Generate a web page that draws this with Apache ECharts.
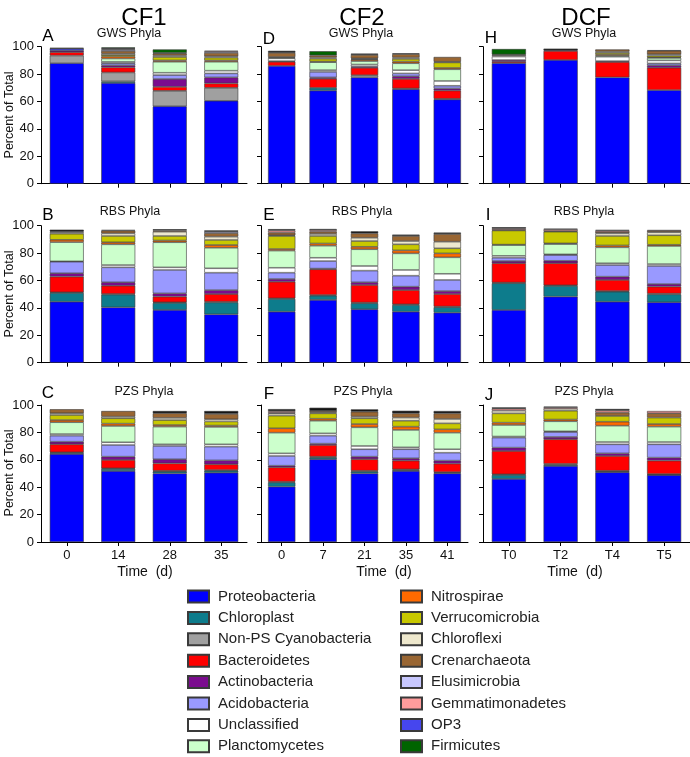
<!DOCTYPE html>
<html><head><meta charset="utf-8">
<script src="https://cdn.jsdelivr.net/npm/echarts@6/dist/echarts.min.js"></script>
<style>html,body{margin:0;padding:0;background:#fff}#c{width:690px;height:757px}</style>
</head><body><div id="c"></div><script>
// Bar order (39 bars): row GWS [A 0,14,28,35 | D 0,7,21,35,41 | H T0,T2,T4,T5],
// then row RBS [B | E | I], then row PZS [C | F | J]
const catCF1 = ['0','14','28','35'];
const catCF2 = ['0','7','21','35','41'];
const catDCF = ['T0','T2','T4','T5'];
const yTicks = [0,20,40,60,80,100];

const proteobacteria = [88,73.5,56.5,60.5, 86,68,77.6,69,61.5, 88,90.3,77.6,68.3,
  44.5,40.4,38.5,35.3, 37.2,45.8,39,37.2,36.5, 38.5,48.2,44.5,44.1,
  64.2,51.8,50.1,50.6, 40.4,60.4,50.1,51.8,50.1, 46,55.5,50.9,48.9];
const chloroplast = [0,1.2,0,0, 0,2,0,0.5,0.5, 0,0,0,0,
  6.4,9.3,5.1,8.7, 9.3,3.1,4.4,4.9,4, 19.5,7.8,7.3,5.8,
  0.8,1.5,1.4,1.4, 3.1,1.4,1.4,0.7,0.4, 2.9,1,0.6,0.2];
const divider = [0,0,0,0, 0,0,0,0,0, 0,0,0,0,
  0.5,0.5,0.5,0.5, 0.5,0.5,0.5,0.5,0.5, 0.5,0.5,0.5,0.5,
  0.5,0.5,0.5,0.5, 0.5,0.5,0.5,0.5,0.5, 0.5,0.5,0.5,0.5];
const nonPSCyano = [5.5,6.5,11.3,9.5, 0,0,1.6,0,0, 0,0,0,0,
  0,0,0,0, 0,0,0,0,0, 0,0,0,0, 0,0,0,0, 0,0,0,0,0, 0,0,0,0];
const bacteroidetes = [2.5,3.7,2.9,3.2, 3,6.6,5.4,7,6, 1,6.6,11.2,16.3,
  11.4,6,4.1,5.6, 12.1,18.8,12.8,10.4,9.1, 14.1,16.1,8.1,5.1,
  5.8,6.1,5.4,4.2, 10.5,8.5,8.4,6.4,6.2, 17,18,10.8,9.8];
const actinobacteria = [1,1.5,5.7,4.4, 0.5,1,1,1.9,1.5, 1.3,0.5,0.7,1.8,
  2.5,2.5,2.4,2.9, 2,0.5,2,2.5,2.2, 1.6,1.8,2.4,1.9,
  1.9,2.4,3,2.9, 1.2,1,1.9,1.7,2.2, 2.5,1.7,1.9,2.2];
const acidobacteria = [0,1.5,2.9,2.9, 0,4,0,2.1,2, 0,0,0,1.4,
  8.4,10.9,17.1,12.7, 4.6,5.5,8.5,8,8.1, 2.4,4.2,8.5,13.2,
  4.4,8.5,9.7,10, 7.1,5.8,5.4,6.6,5.8, 7.3,3.6,6.6,9.7];
const unclassified = [0,1,1.7,2, 2,1.3,1.4,2.4,3.5, 2.5,0,3.2,2.2,
  0.3,1.7,1.9,3.2, 3.6,2.4,3.4,4.2,4.5, 1.4,0.5,1.3,1.4,
  1.2,2,1.2,1.7, 1.9,1.7,2.4,1.4,2.5, 0.8,0.5,1.7,1.7];
const planctomycetes = [0,2.5,8,6.5, 0,5.8,2.5,5,8.5, 0,0,0.8,1.8,
  14,15.1,18.3,15, 12.5,8.8,12.2,12.1,12, 7.9,7.5,11.6,13.2,
  8.6,11.9,12.9,12.7, 15.1,9.2,13.6,12.7,12.1, 8.4,7.3,11.9,11.2];
const nitrospirae = [0,1.5,1,1, 0,0.5,1,1.2,1, 0,0,0.8,0.5,
  1.7,1.5,1.3,2, 1.2,1.6,1.8,2.2,2.9, 0.3,0.5,1.4,0.9,
  1.6,1.7,1.2,1, 3.2,1.5,2.4,2.4,2.4, 1.7,1.3,2.9,1.9];
const verrucomicrobia = [0,1,2.5,2, 0.5,2,0.5,2,4, 0,0,1.2,1.2,
  4.4,4.6,3.3,3.7, 9.5,5.5,4.2,4.4,3.7, 10.3,8.5,6.9,6.9,
  3.7,3.9,3.6,3, 9.2,3.9,4.2,4.3,4.4, 6.8,6.4,4.2,4.7];
const chloroflexi = [0,1,1,1, 0.5,1,0.5,1,0.5, 1,0,1,1,
  1.2,1.9,3.1,2.4, 0.5,1.5,2.4,2.4,4.8, 0,0,1.9,2.2,
  1.3,1.2,1.6,1.6, 1.6,0.7,1.2,2.3,3.2, 2,1.5,0,0];
const crenarchaeota = [0,2,1.5,2.5, 3,1.5,2.5,2.5,3.5, 0.5,0,1.5,2.5,
  0.5,2,1,2.6, 2,1.6,3.2,3.7,5.6, 0.5,0.5,1,1,
  2.9,4.1,3.4,3.9, 0.5,1,3.6,3.1,4.1, 0,0,2.5,3.2];
const elusimicrobia = [0,1,0.5,1, 0,0,0,0,0, 0,0,0,0,
  0,0,0,1, 0,0,0,0,0, 0,0,0,0, 0,0,0,0, 0,0,0,0,0, 0,0,0,0];
const gemmatimonadetes = [0,0.5,0,0.5, 0,0,0,0,0, 0,0,0,0,
  0,0,0,0, 1.5,1.2,0,0,0, 1,1.2,1,0.7,
  0,0,0,0, 1.2,0,0,0,0, 1.4,1,1.5,1.6];
const op3 = [1.5,0.5,0,0, 0,0,0,0,0, 0,0,0,0,
  0,0,0,0, 0,0,0,0,0, 0,0,0,0, 0,0,0,0, 0,0,0,0,0, 0,0,0,0];
const firmicutes = [0,0.5,2.5,0, 0,3,0,0,0, 4,0,0,0,
  0,0,0,0, 0,0,0,0,0, 0,0,0,0, 0,0,0,0, 0,0,0,0,0, 0,0,0,0];
const otherDark = [0.8,0,0,0, 1.5,0,1,0.6,0, 0,1.2,0,0.5,
  1.3,0.5,0.8,1, 1,0.8,1.5,1,1.1, 0.9,0.5,0.5,0,
  0,0,1.6,2.1, 1.5,2.4,1.7,1.9,1.7, 1,0.5,1.1,0];

const phyla = [
  {name:'Proteobacteria', color:'#0000FF', data:proteobacteria},
  {name:'Chloroplast', color:'#0D7C8C', data:chloroplast},
  {name:'_div', color:'#000000', data:divider},
  {name:'Non-PS Cyanobacteria', color:'#A0A0A0', data:nonPSCyano},
  {name:'Bacteroidetes', color:'#FF0000', data:bacteroidetes},
  {name:'Actinobacteria', color:'#7B0C8E', data:actinobacteria},
  {name:'Acidobacteria', color:'#9999FF', data:acidobacteria},
  {name:'Unclassified', color:'#FFFFFF', data:unclassified},
  {name:'Planctomycetes', color:'#CCFFCC', data:planctomycetes},
  {name:'Nitrospirae', color:'#FF6A00', data:nitrospirae},
  {name:'Verrucomicrobia', color:'#C8C800', data:verrucomicrobia},
  {name:'Chloroflexi', color:'#EEE8CD', data:chloroflexi},
  {name:'Crenarchaeota', color:'#996633', data:crenarchaeota},
  {name:'Elusimicrobia', color:'#C8C8FF', data:elusimicrobia},
  {name:'Gemmatimonadetes', color:'#FF9C9C', data:gemmatimonadetes},
  {name:'OP3', color:'#4646EE', data:op3},
  {name:'Firmicutes', color:'#006400', data:firmicutes},
  {name:'_other', color:'#151515', data:otherDark}
];
const legendLeft = ['Proteobacteria','Chloroplast','Non-PS Cyanobacteria','Bacteroidetes','Actinobacteria','Acidobacteria','Unclassified','Planctomycetes'];
const legendRight = ['Nitrospirae','Verrucomicrobia','Chloroflexi','Crenarchaeota','Elusimicrobia','Gemmatimonadetes','OP3','Firmicutes'];

const FONT = 'Liberation Sans, Arial, Helvetica, sans-serif';
const colLeft = [41, 261, 483];
const colWidth = [206, 207, 207];
const rowTop = [46.7, 225.7, 405];
const rowH = 137;
const colCats = [catCF1, catCF2, catDCF];
const panels = [
  {letter:'A',title:'GWS Phyla',row:0,col:0,lx:48,ly:36,tx:129,ty:34},
  {letter:'D',title:'GWS Phyla',row:0,col:1,lx:269,ly:39,tx:361,ty:34},
  {letter:'H',title:'GWS Phyla',row:0,col:2,lx:491,ly:38,tx:584,ty:34},
  {letter:'B',title:'RBS Phyla',row:1,col:0,lx:48,ly:215,tx:130,ty:212},
  {letter:'E',title:'RBS Phyla',row:1,col:1,lx:269,ly:215,tx:362,ty:212},
  {letter:'I',title:'RBS Phyla',row:1,col:2,lx:488,ly:215,tx:584,ty:212},
  {letter:'C',title:'PZS Phyla',row:2,col:0,lx:48,ly:393,tx:144,ty:392},
  {letter:'F',title:'PZS Phyla',row:2,col:1,lx:269,ly:394,tx:363,ty:392},
  {letter:'J',title:'PZS Phyla',row:2,col:2,lx:489,ly:395,tx:584,ty:392}
];

const grid = [], xAxis = [], yAxis = [], series = [], graphic = [];
let start = 0;
panels.forEach((p, i) => {
  const cats = colCats[p.col];
  const n = cats.length;
  grid.push({left: colLeft[p.col], top: rowTop[p.row], width: colWidth[p.col], height: rowH, containLabel:false});
  xAxis.push({
    type:'category', gridIndex:i, data:cats, boundaryGap:true,
    axisLine:{show:true, lineStyle:{color:'#000', width:1}},
    axisTick:{show:true, alignWithLabel:true, length:4, lineStyle:{color:'#000'}},
    axisLabel:{show:p.row===2, color:'#111', fontSize:13, fontFamily:FONT, margin:7}
  });
  yAxis.push({
    type:'value', gridIndex:i, min:yTicks[0], max:yTicks[yTicks.length-1], interval:20,
    axisLine:{show:true, lineStyle:{color:'#000', width:1}},
    axisTick:{show:true, length:4, lineStyle:{color:'#000'}},
    splitLine:{show:false},
    axisLabel:{show:p.col===0, color:'#111', fontSize:13, fontFamily:FONT, margin:7}
  });
  phyla.forEach(s => {
    series.push({
      name:s.name, type:'bar', stack:'s'+i, xAxisIndex:i, yAxisIndex:i,
      barWidth:'66%', animation:false, silent:true,
      itemStyle:{color:s.color, borderColor:'#3a3a3a', borderWidth:0.6},
      data:s.data.slice(start, start+n).map(v => v > 0 ? v : '-')
    });
  });
  start += n;
  graphic.push({type:'text', x:p.lx, y:p.ly, style:{text:p.letter, fontSize:17, fontFamily:FONT, fill:'#000', align:'center', verticalAlign:'middle'}});
  graphic.push({type:'text', x:p.tx, y:p.ty, style:{text:p.title, fontSize:12.5, fontFamily:FONT, fill:'#111', align:'center', verticalAlign:'middle'}});
});

[['CF1',144],['CF2',362],['DCF',586]].forEach(t => {
  graphic.push({type:'text', x:t[1], y:18, style:{text:t[0], fontSize:24, fontFamily:FONT, fill:'#000', align:'center', verticalAlign:'middle'}});
});
[115, 294, 473].forEach(yc => {
  graphic.push({type:'text', x:10, y:yc, rotation:Math.PI/2, style:{text:'Percent of Total', fontSize:12.5, fontFamily:FONT, fill:'#111', align:'center', verticalAlign:'middle'}});
});
[145, 384, 575].forEach(xc => {
  graphic.push({type:'text', x:xc, y:572, style:{text:'Time  (d)', fontSize:14, fontFamily:FONT, fill:'#111', align:'center', verticalAlign:'middle'}});
});

const legendCommon = {
  orient:'vertical', icon:'rect', itemWidth:21, itemHeight:12, itemGap:6.4,
  selectedMode:false, top:584, height:200, padding:5,
  textStyle:{fontSize:15, fontFamily:FONT, color:'#222', padding:[0,0,0,4]}
};
const option = {
  backgroundColor:'#fff',
  animation:false,
  grid, xAxis, yAxis, series, graphic,
  legend:[
    Object.assign({}, legendCommon, {left:182, data:legendLeft}),
    Object.assign({}, legendCommon, {left:395, data:legendRight})
  ]
};
const chart = echarts.init(document.getElementById('c'), null, {renderer:'canvas'});
chart.setOption(option);
</script></body></html>
